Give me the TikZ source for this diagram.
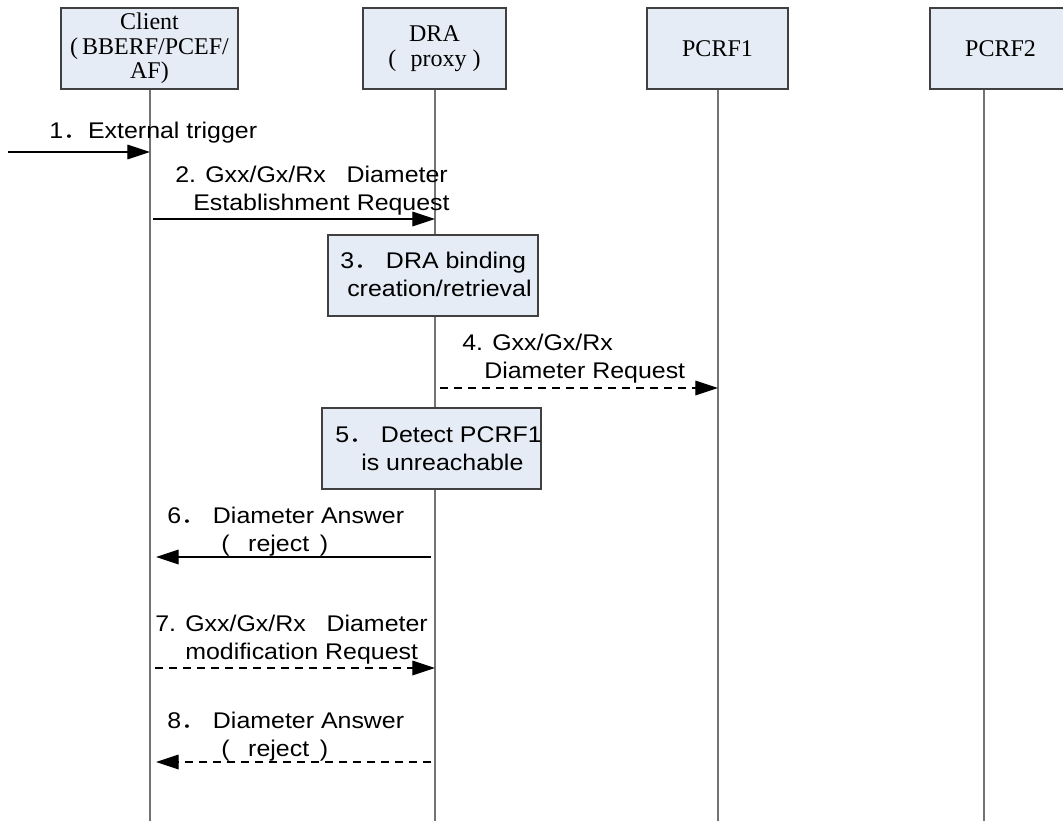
\documentclass[tikz,border=0pt]{standalone}
\usepackage{fontspec}
\setmainfont{Liberation Serif}
\newfontfamily\msgfont[FakeStretch=1.1]{Liberation Sans}
\newfontfamily\cjkfont[FakeStretch=1.1]{Noto Sans CJK SC}
\usetikzlibrary{arrows.meta}
\definecolor{boxfill}{RGB}{230,236,246}
\definecolor{boxline}{RGB}{64,64,64}
\definecolor{lifegray}{RGB}{115,115,115}
% full-width period used in the step numbers
\newcommand\fdot{{\cjkfont ．}}
% multi-line label whose baseline is the first line
\newcommand\lab[1]{\begin{tabular}[t]{@{}l@{}}#1\end{tabular}}
\begin{document}
\begin{tikzpicture}[x=0.75pt, y=-0.75pt,
  entity/.style={draw=boxline, fill=boxfill, line width=0.9pt,
    minimum height=60.75pt, inner sep=0pt, align=center,
    font=\fontsize{18}{18.5}\selectfont},
  actbox/.style={draw=boxline, fill=boxfill, line width=0.9pt,
    minimum height=60.75pt, inner sep=0pt},
  msgtext/.style={anchor=base west, inner sep=0pt,
    font=\msgfont\fontsize{17}{21}\selectfont},
  lifeline/.style={draw=lifegray, line width=1pt},
  msg/.style={draw=black, line width=0.9pt,
    -{Triangle[length=17pt,width=11pt]}},
  reply/.style={msg, dash pattern=on 6pt off 4.5pt}]

\useasboundingbox (0,0) rectangle (1063,821);
\clip (0,0) rectangle (1063,821);

% participants
\node[entity, minimum width=132.75pt] (client) at (149.5,48.5)
  {Client\\(\,BBERF/PCEF/\\AF)};
\node[entity, minimum width=107.25pt] (dra) at (434.5,48.5)
  {DRA\\(\hspace{0.6em}proxy\hspace{0.25em})};
\node[entity, minimum width=105.75pt] (pcrf1) at (717.5,48.5) {PCRF1};
\node[entity, minimum width=105.75pt] (pcrf2) at (1000.5,48.5) {PCRF2};

% lifeline ends
\coordinate (cend) at (150,821);
\coordinate (dend) at (435,821);
\coordinate (p1end) at (718,821);
\coordinate (p2end) at (984,821);

% lifelines
\draw[lifeline] (client.south -| cend) -- (cend);
\draw[lifeline] (dra.south -| dend) -- (dend);
\draw[lifeline] (pcrf1.south -| p1end) -- (p1end);
\draw[lifeline] (pcrf2.south -| p2end) -- (p2end);

% local actions at the DRA
\node[actbox, minimum width=157.5pt] (bind) at (433,275.5) {};
\node[actbox, minimum width=164.25pt] (detect) at (431.5,448.5) {};
\node[msgtext] (bindtxt) at (340,268)
  {\lab{3\fdot\ DRA binding\\\hspace*{5.25pt}creation/retrieval}};
\node[msgtext] (detecttxt) at (335,442)
  {\lab{5\fdot\ Detect PCRF1\\\hspace*{19.5pt}is unreachable}};

% message anchors on the lifelines
\coordinate (ext) at (8,152);
\coordinate (c1) at (150,152);
\coordinate (c2) at (150,219);
\coordinate (d2) at (435,219);
\coordinate (d4) at (435,388);
\coordinate (p4) at (718,388);
\coordinate (d6) at (435,557);
\coordinate (c6) at (150,557);
\coordinate (c7) at (150,668);
\coordinate (d7) at (435,668);
\coordinate (d8) at (435,762);
\coordinate (c8) at (150,762);

% messages
\draw[msg] (ext) -- (c1);
\draw[msg, shorten <=2.25pt] (c2) -- (d2);
\draw[reply, shorten <=3.75pt] (d4) -- (p4);
\draw[msg, shorten <=3pt, shorten >=4.5pt] (d6) -- (c6);
\draw[reply, shorten <=3.75pt] (c7) -- (d7);
\draw[reply, shorten <=3pt, shorten >=4.5pt] (d8) -- (c8);

% message labels
\node[msgtext] (m1) at (49,138) {1\fdot External trigger};
\node[msgtext] (m2) at (175,182)
  {\lab{2. Gxx/Gx/Rx\ \ \ Diameter\\\hspace*{13.5pt}Establishment Request}};
\node[msgtext] (m4) at (462,350)
  {\lab{4. Gxx/Gx/Rx\\\hspace*{16.5pt}Diameter Request}};
\node[msgtext] (m6) at (167,523)
  {\lab{6\fdot\ Diameter Answer\\\hspace*{40.5pt}(\hspace*{14pt}reject\hspace*{8pt})}};
\node[msgtext] (m7) at (155,631)
  {\lab{7. Gxx/Gx/Rx\ \ \ Diameter\\\hspace*{22.5pt}modification Request}};
\node[msgtext] (m8) at (167,728)
  {\lab{8\fdot\ Diameter Answer\\\hspace*{40.5pt}(\hspace*{14pt}reject\hspace*{8pt})}};
\end{tikzpicture}
\end{document}
